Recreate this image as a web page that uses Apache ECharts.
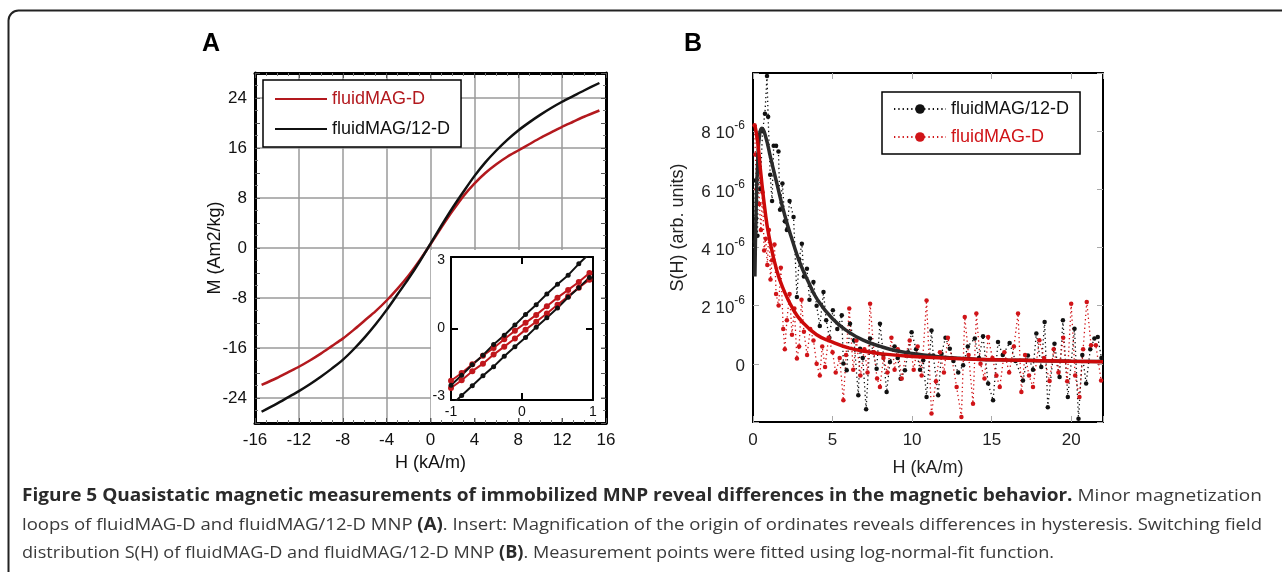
<!DOCTYPE html>
<html><head><meta charset="utf-8">
<script src="https://cdn.jsdelivr.net/npm/echarts@6/dist/echarts.min.js"></script>
<style>html,body{margin:0;padding:0;background:#fff}#c{width:1282px;height:572px}</style>
</head><body><div id="c"></div>
<script>
// ---------- Panel A: magnetization loops ----------
const H_A = [-15.4,-14,-13,-12,-11,-10,-9,-8,-7,-6,-5,-4,-3,-2,-1,0,1,2,3,4,5,6,7,8,9,10,11,12,13,14,15.4];
const M_A_BLACK = [-26.2,-24.9,-23.9,-22.9,-21.8,-20.6,-19.3,-17.9,-16.2,-14.3,-12.2,-9.9,-7.4,-4.9,-2.2,0.7,3.6,6.4,9.0,11.5,13.7,15.6,17.3,18.8,20.1,21.3,22.4,23.4,24.3,25.2,26.4];
const M_A_RED = [-21.9,-20.8,-19.9,-19.0,-18.0,-16.9,-15.7,-14.5,-13.1,-11.6,-10.1,-8.4,-6.5,-4.4,-2.0,0.6,3.3,5.9,8.3,10.3,12.0,13.4,14.6,15.6,16.6,17.6,18.5,19.4,20.2,21.0,22.0];
const A_Y_TICKS = [-24,-16,-8,0,8,16,24];

// ---------- Inset (origin magnification) ----------
const INSET_H = [-1.0,-0.85,-0.7,-0.55,-0.4,-0.25,-0.1,0.05,0.2,0.35,0.5,0.65,0.8,0.95];
const INSET_BLACK_UP = [-2.5,-2.06,-1.6,-1.18,-0.7,-0.3,0.15,0.62,1.05,1.52,1.95,2.35,2.85,3.3];
const INSET_BLACK_DOWN = [-3.4,-2.95,-2.52,-2.08,-1.68,-1.22,-0.8,-0.4,0.06,0.47,0.9,1.38,1.8,2.25];
const INSET_RED_UP = [-2.3,-1.96,-1.58,-1.2,-0.86,-0.47,-0.1,0.25,0.6,0.98,1.36,1.7,2.05,2.45];
const INSET_RED_DOWN = [-2.62,-2.28,-1.88,-1.55,-1.15,-0.8,-0.44,-0.05,0.3,0.66,1.05,1.42,1.8,2.15];
const INSET_TICKS = [-3,0,3];

// ---------- Panel B: switching field distribution (S in units of 1e-6) ----------
const H_B_BLACK = [0.10,0.14,0.20,0.28,0.35,0.45,0.60,0.75,0.88,0.95,1.08,1.20,1.30,1.45,1.60,1.70,1.85,2.00,2.13,2.30,2.55,2.76,2.90,3.07,3.20,3.39,3.55,3.80,4.00,4.20,4.43,4.60,4.80,5.02,5.30,5.58,5.68,5.89,6.10,6.35,6.62,6.73,6.90,7.11,7.36,7.55,7.77,7.98,8.20,8.40,8.61,8.90,9.10,9.28,9.55,9.75,9.97,10.25,10.50,10.70,10.91,11.22,11.33,11.64,11.85,12.10,12.37,12.60,12.90,13.21,13.50,13.94,14.20,14.46,14.78,15.09,15.40,15.70,16.13,16.50,16.97,17.28,17.60,17.81,18.12,18.33,18.53,18.95,19.27,19.48,19.79,20.21,20.46,20.70,20.94,21.20,21.46,21.67,21.90];
const S_B_BLACK = [4.2,6.3,5.0,4.4,7.1,6.0,8.0,8.6,9.9,8.5,6.5,5.6,7.5,7.5,7.3,5.3,6.2,4.9,4.6,5.6,5.05,2.3,3.6,4.13,3.0,3.27,2.2,2.81,2.0,1.3,2.47,1.5,0.9,1.84,1.2,1.67,0.01,-0.22,1.38,0.8,-1.08,0.52,0.2,-1.56,0.87,0.4,-0.17,1.38,0.3,-0.97,0.06,0.6,0.2,-0.51,-0.22,0.4,1.09,0.5,-0.2,0.12,-1.14,1.15,0.29,-1.08,0.35,0.9,0.52,0.1,-0.3,-0.05,0.6,0.87,0.2,0.95,-0.68,-1.25,0.75,0.3,0.72,0.1,-0.57,0.29,-0.2,1.04,-0.11,1.44,-1.49,0.69,-0.45,1.50,-1.14,1.21,-1.89,0.3,-0.68,0.5,0.87,0.92,0.2];
const H_B_RED = [0.10,0.15,0.22,0.30,0.40,0.50,0.60,0.70,0.80,0.90,1.00,1.10,1.20,1.35,1.45,1.61,1.75,1.90,2.00,2.13,2.30,2.45,2.60,2.76,2.90,3.05,3.20,3.40,3.60,3.80,4.00,4.20,4.35,4.53,4.75,5.00,5.20,5.45,5.68,5.85,6.05,6.30,6.50,6.75,7.00,7.20,7.36,7.60,7.80,7.98,8.20,8.45,8.70,8.90,9.10,9.35,9.60,9.85,10.10,10.35,10.60,10.91,11.22,11.50,11.75,12.00,12.25,12.50,12.80,13.10,13.31,13.55,13.83,14.04,14.30,14.55,14.78,15.05,15.30,15.51,15.80,16.10,16.40,16.66,16.87,17.10,17.35,17.60,18.00,18.30,18.64,18.90,19.20,19.50,19.75,20.00,20.25,20.52,20.75,20.98,21.25,21.55,21.88];
const S_B_RED = [8.2,7.2,6.0,7.8,5.5,4.6,5.9,3.9,4.3,3.4,4.6,2.9,3.56,4.1,2.4,2.01,3.3,1.2,0.5,1.5,2.4,1.0,1.9,0.18,0.6,2.2,1.1,0.3,1.2,0.8,0.0,-0.4,0.6,-0.11,0.9,0.4,-0.3,0.2,-1.25,0.3,1.9,-0.2,0.8,-0.4,0.5,-0.3,2.07,0.4,-0.5,-0.8,0.2,-0.3,0.9,-0.2,0.5,-0.5,0.3,0.8,-0.2,0.6,-0.4,2.18,-1.71,-0.6,0.4,-0.3,0.9,0.2,-0.8,-1.83,1.61,0.3,-1.37,1.73,0.0,-0.5,0.92,0.2,-0.4,-0.8,0.4,-0.3,0.6,1.73,-0.97,0.3,-0.4,-0.8,0.81,0.2,-0.59,0.5,-0.3,0.9,-0.6,2.07,-0.4,-1.14,0.5,2.13,0.64,0.64,-0.57];
const H_FIT_BLACK = [0.12,0.2,0.3,0.42,0.56,0.8,1.1,1.5,2.0,2.5,3.0,3.5,4.0,5.0,6.0,7.0,8.0,9.0,10,11,12,13,14,16,18,20,22];
const S_FIT_BLACK = [3.0,5.4,7.0,7.9,8.1,7.8,7.1,6.2,5.1,4.2,3.4,2.8,2.25,1.55,1.1,0.8,0.6,0.45,0.36,0.29,0.23,0.19,0.16,0.13,0.11,0.09,0.08];
const H_FIT_RED = [0.12,0.3,0.5,0.75,1.0,1.5,2.0,2.5,3.0,4.0,5.0,6.0,7.0,8.0,10,12,14,16,18,20,22];
const S_FIT_RED = [8.2,7.6,6.5,5.3,4.4,3.2,2.45,1.9,1.5,1.0,0.75,0.55,0.43,0.35,0.25,0.2,0.16,0.13,0.11,0.09,0.07];

const CAPTION = [
  [["Figure 5 Quasistatic magnetic measurements of immobilized MNP reveal differences in the magnetic behavior.", true],[" Minor magnetization", false]],
  [["loops of fluidMAG-D and fluidMAG/12-D MNP ", false],["(A)", true],[". Insert: Magnification of the origin of ordinates reveals differences in hysteresis. Switching field", false]],
  [["distribution S(H) of fluidMAG-D and fluidMAG/12-D MNP ", false],["(B)", true],[". Measurement points were fitted using log-normal-fit function.", false]]
];
const CAPTION_WIDTHS = [1240, 1240, 1032];

const zip = (xs, ys) => xs.map((x, i) => [x, ys[i]]);
const FONT = "'Liberation Sans', Arial, Helvetica, sans-serif";
const CAP_FONT = "'Open Sans', 'Noto Sans', sans-serif";
const RED_A = '#b3191e', BLACK = '#111111', RED_B = '#d01418';

// caption graphics (width fitted by measurement)
const ctx = document.createElement('canvas').getContext('2d');
const capSize = 17;
function lineWidth(segs){ let w=0; segs.forEach(([t,b])=>{ ctx.font=(b?'bold ':'')+capSize+'px '+CAP_FONT; w+=ctx.measureText(t).width; }); return w; }
const capY = [496, 525, 553];
const capGraphics = CAPTION.map((segs, i) => ({
  type: 'text', x: 22, y: capY[i], scaleX: CAPTION_WIDTHS[i] / lineWidth(segs), z: 20,
  style: {
    text: segs.map(([t,b]) => '{' + (b?'b':'r') + '|' + t + '}').join(''),
    verticalAlign: 'middle',
    rich: {
      b: {fontFamily: CAP_FONT, fontWeight: 'bold', fontSize: capSize, fill: '#2a2a2a'},
      r: {fontFamily: CAP_FONT, fontSize: capSize, fill: '#3a3a3a'}
    }
  }
}));

const tickA = {show: true, inside: true, length: 5, lineStyle: {color: '#555', width: 1}};
const minorA = (n) => ({show: true, splitNumber: n, length: 3, lineStyle: {color: '#777', width: 1}});
const lineA = {show: true, onZero: false, lineStyle: {color: '#000', width: 3}};
const tickB = {show: true, inside: true, length: 6, lineStyle: {color: '#aaa', width: 1}};
const lineB = {show: true, onZero: false, lineStyle: {color: '#000', width: 2}};
const tickI = {show: true, inside: true, length: 7, customValues: [0], lineStyle: {color: '#000', width: 2}};
const lineI = {show: true, onZero: false, lineStyle: {color: '#000', width: 2}};

const option = {
  backgroundColor: '#fff',
  animation: false,
  textStyle: {fontFamily: FONT},
  grid: [
    {left: 255, top: 73, width: 351, height: 350},
    {left: 753, top: 73, width: 350, height: 349},
    {left: 451, top: 257, width: 142, height: 143, z: 10}
  ],
  xAxis: [
    {gridIndex: 0, type: 'value', min: -16, max: 16, interval: 4, position: 'bottom',
     axisLine: lineA, axisTick: tickA, minorTick: minorA(4),
     splitLine: {show: true, lineStyle: {color: '#9a9a9a', width: 1.5}},
     axisLabel: {fontSize: 17, color: '#111', margin: 9, fontFamily: FONT},
     name: 'H (kA/m)', nameLocation: 'middle', nameGap: 31, nameMoveOverlap: false,
     nameTextStyle: {fontSize: 18, color: '#111', fontFamily: FONT}},
    {gridIndex: 0, type: 'value', min: -16, max: 16, interval: 4, position: 'top',
     axisLine: lineA, axisTick: tickA, minorTick: minorA(4), splitLine: {show: false}, axisLabel: {show: false}},
    {gridIndex: 1, type: 'value', min: 0, max: 22, interval: 5, position: 'bottom',
     axisLine: lineB, axisTick: tickB, splitLine: {show: false},
     axisLabel: {fontSize: 17, color: '#222', margin: 10, fontFamily: FONT, formatter: v => (v % 5 === 0 ? String(v) : '')},
     name: 'H (kA/m)', nameLocation: 'middle', nameGap: 37, nameMoveOverlap: false,
     nameTextStyle: {fontSize: 18, color: '#222', fontFamily: FONT}},
    {gridIndex: 1, type: 'value', min: 0, max: 22, interval: 5, position: 'top',
     axisLine: lineB, axisTick: tickB, splitLine: {show: false}, axisLabel: {show: false}},
    {gridIndex: 2, type: 'value', min: -1, max: 1, interval: 1, position: 'bottom', z: 10,
     axisLine: lineI, axisTick: tickI, splitLine: {show: false},
     axisLabel: {fontSize: 14, color: '#111', margin: 5, fontFamily: FONT}},
    {gridIndex: 2, type: 'value', min: -1, max: 1, interval: 1, position: 'top', z: 10,
     axisLine: lineI, axisTick: tickI, splitLine: {show: false}, axisLabel: {show: false}}
  ],
  yAxis: [
    {gridIndex: 0, type: 'value', min: -28, max: 28, interval: 4, position: 'left',
     axisLine: lineA, axisTick: tickA, minorTick: minorA(2),
     splitLine: {show: true, lineStyle: {color: ['rgba(0,0,0,0)', '#9a9a9a'], width: 1.5}},
     axisLabel: {fontSize: 17, color: '#111', margin: 8, fontFamily: FONT,
       formatter: v => (A_Y_TICKS.indexOf(v) >= 0 ? String(v) : '')},
     name: 'M (Am2/kg)', nameLocation: 'middle', nameGap: 31, nameMoveOverlap: false,
     nameTextStyle: {fontSize: 18, color: '#111', fontFamily: FONT}},
    {gridIndex: 0, type: 'value', min: -28, max: 28, interval: 4, position: 'right',
     axisLine: lineA, axisTick: tickA, minorTick: minorA(2), splitLine: {show: false}, axisLabel: {show: false}},
    {gridIndex: 1, type: 'value', min: -2, max: 10, interval: 2, position: 'left',
     axisLine: lineB, axisTick: tickB, splitLine: {show: false},
     axisLabel: {margin: 8, fontFamily: FONT, color: '#222',
       formatter: v => { const n = Math.round(v); if (n === 0) return '{m|0}'; if (n > 0 && n < 10) return '{m|' + n + ' 10}{s|-6}'; return ''; },
       rich: {m: {fontSize: 17, color: '#222', fontFamily: FONT, lineHeight: 22, verticalAlign: 'bottom'},
              s: {fontSize: 12, color: '#222', fontFamily: FONT, lineHeight: 22, verticalAlign: 'top'}}},
     name: 'S(H) (arb. units)', nameLocation: 'middle', nameGap: 66, nameMoveOverlap: false,
     nameTextStyle: {fontSize: 18, color: '#222', fontFamily: FONT, padding: [0, 0, 0, 40]}},
    {gridIndex: 1, type: 'value', min: -2, max: 10, interval: 2, position: 'right',
     axisLine: lineB, axisTick: tickB, splitLine: {show: false}, axisLabel: {show: false}},
    {gridIndex: 2, type: 'value', min: -3.15, max: 3.15, position: 'left', z: 10,
     axisLine: lineI, axisTick: tickI, splitLine: {show: false},
     axisLabel: {customValues: INSET_TICKS, fontSize: 14, color: '#111', margin: 6, fontFamily: FONT}},
    {gridIndex: 2, type: 'value', min: -3.15, max: 3.15, position: 'right', z: 10,
     axisLine: lineI, axisTick: tickI, splitLine: {show: false}, axisLabel: {show: false}}
  ],
  legend: [
    {orient: 'vertical', left: 263, top: 80, itemWidth: 52, itemHeight: 2, itemGap: 10,
     padding: [9, 11, 8, 12], backgroundColor: '#fff', borderColor: '#000', borderWidth: 1.5,
     textStyle: {fontSize: 18, fontFamily: FONT, lineHeight: 20},
     data: [{name: 'fluidMAG-D', icon: 'rect', textStyle: {color: RED_A}},
            {name: 'fluidMAG/12-D', icon: 'rect', textStyle: {color: BLACK}}]},
    {orient: 'vertical', left: 882, top: 92, itemWidth: 52, itemHeight: 12, itemGap: 10,
     padding: [8, 11, 8, 11], backgroundColor: '#fff', borderColor: '#000', borderWidth: 1.5,
     textStyle: {fontSize: 18, fontFamily: FONT},
     formatter: n => n.replace('B:', ''),
     data: [{name: 'B:fluidMAG/12-D', textStyle: {color: BLACK}}, {name: 'B:fluidMAG-D', textStyle: {color: RED_B}}]}
  ],
  graphic: [
    {type: 'rect', shape: {x: 8.5, y: 10.5, width: 1400, height: 700, r: [10, 0, 0, 0]},
     style: {fill: 'none', stroke: '#222', lineWidth: 2}, z: 20},
    {type: 'rect', shape: {x: 431, y: 250, width: 170, height: 168}, style: {fill: '#fff'}, z: 5},
    {type: 'text', x: 211, y: 44, style: {text: 'A', font: 'bold 25px ' + FONT, fill: '#000', align: 'center', verticalAlign: 'middle'}, z: 20},
    {type: 'text', x: 693, y: 44, style: {text: 'B', font: 'bold 25px ' + FONT, fill: '#000', align: 'center', verticalAlign: 'middle'}, z: 20}
  ].concat(capGraphics),
  series: [
    {name: 'fluidMAG-D', type: 'line', xAxisIndex: 0, yAxisIndex: 0, data: zip(H_A, M_A_RED), smooth: 0.3,
     symbol: 'none', lineStyle: {color: RED_A, width: 2.5}, itemStyle: {color: RED_A}, z: 3},
    {name: 'fluidMAG/12-D', type: 'line', xAxisIndex: 0, yAxisIndex: 0, data: zip(H_A, M_A_BLACK), smooth: 0.3,
     symbol: 'none', lineStyle: {color: BLACK, width: 2.5}, itemStyle: {color: BLACK}, z: 3},

    {name: 'insetRedUp', type: 'line', xAxisIndex: 4, yAxisIndex: 4, data: zip(INSET_H, INSET_RED_UP),
     symbol: 'circle', symbolSize: 6, lineStyle: {color: '#c0171c', width: 2}, itemStyle: {color: '#c0171c'}, z: 11},
    {name: 'insetRedDown', type: 'line', xAxisIndex: 4, yAxisIndex: 4, data: zip(INSET_H, INSET_RED_DOWN),
     symbol: 'circle', symbolSize: 6, lineStyle: {color: '#c0171c', width: 2}, itemStyle: {color: '#c0171c'}, z: 11},
    {name: 'insetBlackUp', type: 'line', xAxisIndex: 4, yAxisIndex: 4, data: zip(INSET_H, INSET_BLACK_UP),
     symbol: 'circle', symbolSize: 5, lineStyle: {color: BLACK, width: 2}, itemStyle: {color: BLACK}, z: 11},
    {name: 'insetBlackDown', type: 'line', xAxisIndex: 4, yAxisIndex: 4, data: zip(INSET_H, INSET_BLACK_DOWN),
     symbol: 'circle', symbolSize: 5, lineStyle: {color: BLACK, width: 2}, itemStyle: {color: BLACK}, z: 11},

    {name: 'B:fluidMAG/12-D', type: 'line', xAxisIndex: 2, yAxisIndex: 2, data: zip(H_B_BLACK, S_B_BLACK),
     symbol: 'circle', symbolSize: 4.5, showSymbol: true,
     lineStyle: {color: BLACK, width: 1.3, type: [1.3, 3]}, itemStyle: {color: BLACK}, z: 2},
    {name: 'B:fluidMAG-D', type: 'line', xAxisIndex: 2, yAxisIndex: 2, data: zip(H_B_RED, S_B_RED),
     symbol: 'circle', symbolSize: 4.5, showSymbol: true,
     lineStyle: {color: RED_B, width: 1.3, type: [1.3, 3]}, itemStyle: {color: RED_B}, z: 2},
    {name: 'fitBlack', type: 'line', xAxisIndex: 2, yAxisIndex: 2, data: zip(H_FIT_BLACK, S_FIT_BLACK), smooth: true,
     symbol: 'none', lineStyle: {color: '#2b2b2b', width: 3.5}, z: 3},
    {name: 'fitRed', type: 'line', xAxisIndex: 2, yAxisIndex: 2, data: zip(H_FIT_RED, S_FIT_RED), smooth: true,
     symbol: 'none', lineStyle: {color: '#cc0a0a', width: 3.5}, z: 3}
  ]
};
const chart = echarts.init(document.getElementById('c'), null, {renderer: 'canvas'});
chart.setOption(option);
</script></body></html>
